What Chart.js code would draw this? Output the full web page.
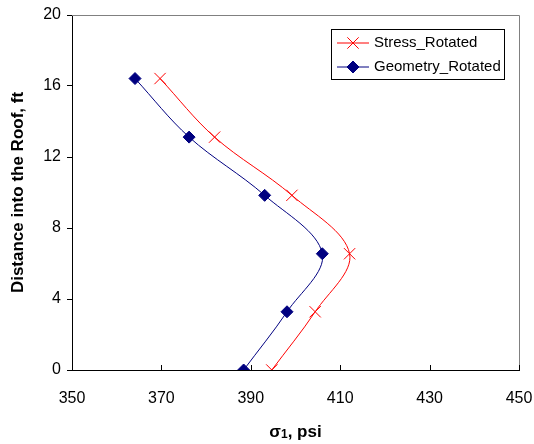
<!DOCTYPE html>
<html>
<head>
<meta charset="utf-8">
<script src="https://cdn.jsdelivr.net/npm/chart.js@4.4.1/dist/chart.umd.min.js"></script>
<style>
  html, body { margin: 0; padding: 0; background: #fff; }
  #wrap { position: relative; width: 534px; height: 444px; }
</style>
</head>
<body>
<div id="wrap"><canvas id="chart" width="534" height="444"></canvas></div>
<script>
// distance into the roof (ft)
var depths = [0, 3.28, 6.55, 9.84, 13.12, 16.42];
// sigma 1 (psi)
var stressRotated = [394.7, 404.4, 412.1, 399.2, 381.9, 369.7];
var geometryRotated = [388.4, 398.1, 406.0, 393.1, 376.2, 364.1];
var xTicks = [350, 370, 390, 410, 430, 450];
var yTicks = [0, 4, 8, 12, 16, 20];

function toPoints(xs, ys) {
    return xs.map(function (v, i) { return { x: v, y: ys[i] }; });
}

var FONT = "'Liberation Sans', Arial, sans-serif";

// frame: black left/bottom, grey top/right, x ticks pointing inward, x title with subscript
var framePlugin = {
    id: 'frame',
    afterDraw: function (chart) {
        var ctx = chart.ctx, a = chart.chartArea, xs = chart.scales.x;
        ctx.save();
        ctx.lineWidth = 1;
        ctx.strokeStyle = '#808080';
        ctx.beginPath();
        ctx.moveTo(a.left, a.top + 0.5);
        ctx.lineTo(a.right + 0.5, a.top + 0.5);
        ctx.lineTo(a.right + 0.5, a.bottom);
        ctx.stroke();
        ctx.strokeStyle = '#000';
        ctx.beginPath();
        xTicks.forEach(function (t) {
            var px = Math.round(xs.getPixelForValue(t)) + 0.5;
            ctx.moveTo(px, a.bottom);
            ctx.lineTo(px, a.bottom - 5);
        });
        ctx.stroke();

        // x axis title: sigma with subscript 1
        var parts = [
            { t: 'σ', f: 'bold 17px ' + FONT, dy: 0 },
            { t: '1', f: 'bold 12px ' + FONT, dy: 3 },
            { t: ', psi', f: 'bold 17px ' + FONT, dy: 0 }
        ];
        var w = 0;
        parts.forEach(function (p) { ctx.font = p.f; p.w = ctx.measureText(p.t).width; w += p.w; });
        var x = (a.left + a.right) / 2 - w / 2, y = 432;
        ctx.fillStyle = '#000';
        ctx.textBaseline = 'middle';
        parts.forEach(function (p) { ctx.font = p.f; ctx.fillText(p.t, x, y + p.dy); x += p.w; });
        ctx.restore();
    }
};

// Excel-style legend box with line + marker samples
var legendPlugin = {
    id: 'boxLegend',
    afterDraw: function (chart) {
        var ctx = chart.ctx;
        var bx = 331.5, by = 29.5, bw = 173, bh = 50;
        ctx.save();
        ctx.fillStyle = '#fff';
        ctx.fillRect(bx, by, bw, bh);
        ctx.strokeStyle = '#000';
        ctx.lineWidth = 1;
        ctx.strokeRect(bx, by, bw, bh);
        chart.data.datasets.forEach(function (ds, i) {
            var y = by + 13.5 + i * 24;
            ctx.strokeStyle = ds.borderColor;
            ctx.lineWidth = 1;
            ctx.beginPath();
            ctx.moveTo(337, y);
            ctx.lineTo(369, y);
            ctx.stroke();
            Chart.helpers.drawPoint(ctx, {
                pointStyle: ds.pointStyle, radius: ds.pointRadius, borderWidth: 1
            }, 353, y);
            if (ds.pointStyle === 'rectRot') { ctx.fillStyle = ds.pointBackgroundColor; ctx.fill(); }
            ctx.fillStyle = '#000';
            ctx.font = '15px ' + FONT;
            ctx.textBaseline = 'middle';
            ctx.fillText(ds.label, 374, y);
        });
        ctx.restore();
    }
};

new Chart(document.getElementById('chart'), {
    type: 'scatter',
    data: {
        datasets: [
            {
                label: 'Stress_Rotated',
                data: toPoints(stressRotated, depths),
                showLine: true, tension: 0.35,
                borderColor: '#FF0000', borderWidth: 1,
                pointStyle: 'crossRot', pointRadius: 8,
                pointBorderColor: '#FF0000', pointBackgroundColor: '#FF0000', pointBorderWidth: 1
            },
            {
                label: 'Geometry_Rotated',
                data: toPoints(geometryRotated, depths),
                showLine: true, tension: 0.35,
                borderColor: '#000080', borderWidth: 1,
                pointStyle: 'rectRot', pointRadius: 6,
                pointBorderColor: '#000080', pointBackgroundColor: '#000080', pointBorderWidth: 1
            }
        ]
    },
    options: {
        responsive: false, animation: false,
        layout: { padding: { left: 0, right: 15, top: 15, bottom: 0 } },
        plugins: { legend: { display: false }, tooltip: { enabled: false } },
        scales: {
            x: {
                type: 'linear', min: 350, max: 450,
                afterBuildTicks: function (s) { s.ticks = xTicks.map(function (v) { return { value: v }; }); },
                afterFit: function (s) { s.height = 74; s.paddingLeft = 0; s.paddingRight = 0; },
                grid: { display: false, drawTicks: false },
                border: { display: true, color: '#000', width: 1 },
                ticks: { color: '#000', padding: 19, maxRotation: 0, font: { family: FONT, size: 16 } },
                title: { display: false }
            },
            y: {
                type: 'linear', min: 0, max: 20,
                afterBuildTicks: function (s) { s.ticks = yTicks.map(function (v) { return { value: v }; }); },
                afterFit: function (s) { s.width = 72; s.paddingTop = 0; s.paddingBottom = 0; },
                grid: { drawOnChartArea: false, drawTicks: true, tickLength: 5, color: '#000' },
                border: { display: true, color: '#000', width: 1 },
                ticks: { color: '#000', padding: 6, font: { family: FONT, size: 16 } },
                title: {
                    display: true, text: 'Distance into the Roof, ft', color: '#000',
                    font: { family: FONT, size: 17, weight: 'bold' }, padding: { top: 8 }
                }
            }
        }
    },
    plugins: [framePlugin, legendPlugin]
});
</script>
</body>
</html>
